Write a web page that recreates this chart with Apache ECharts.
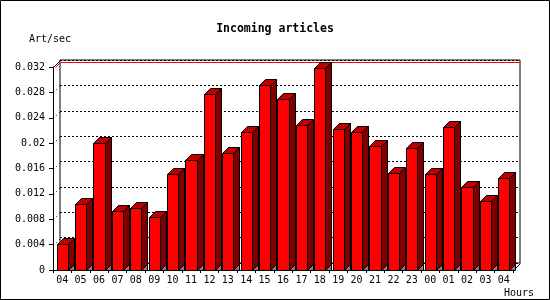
<!DOCTYPE html>
<html><head><meta charset="utf-8">
<script src="https://cdn.jsdelivr.net/npm/echarts@6/dist/echarts.min.js"></script>
<style>html,body{margin:0;padding:0;background:#fff}#c{width:550px;height:300px}</style>
</head><body><div id="c"></div>
<script>
const categories = ['04','05','06','07','08','09','10','11','12','13','14','15','16','17','18','19','20','21','22','23','00','01','02','03','04'];
const artPerSec = [0.00407,0.01041,0.02007,0.0093,0.00977,0.00834,0.0151,0.01738,0.02772,0.01849,0.02181,0.02915,0.02703,0.02291,0.03179,0.02229,0.02176,0.0196,0.01532,0.01928,0.01516,0.02261,0.0131,0.01088,0.01452];
const yTickValues = [0,0.004,0.008,0.012,0.016,0.02,0.024,0.028,0.032];
const yTickLabels = ['0','0.004','0.008','0.012','0.016','0.02','0.024','0.028','0.032'];
const maxLine = 0.032;

const D = 7;     // wall depth
const BD = 6;    // bar depth
const FONT = 'DejaVu Sans Mono';
const chart = echarts.init(document.getElementById('c'), null, {renderer:'canvas'});

function r(v){return Math.round(v)+0.5;}

function renderBar(params, api){
  const idx = api.value(0), v = api.value(1);
  const b = api.coord([idx, 0]);
  const t = api.coord([idx, v]);
  const band = api.size([1,0])[0];
  const x0 = r(b[0] - band*0.3), x1 = r(b[0] + band*0.3);
  const yb = r(b[1]), yt = r(t[1]);
  const st = {stroke:'#000', lineWidth:1};
  return {type:'group', children:[
    {type:'polygon', shape:{points:[[x1,yb],[x1+BD,yb-BD],[x1+BD,yb]]}, style:{fill:'#808080', stroke:'#000', lineWidth:1}},
    {type:'polygon', shape:{points:[[x1,yt],[x1+BD,yt-BD],[x1+BD,yb-BD],[x1,yb]]}, style:Object.assign({fill:'#800000'},st)},
    {type:'polygon', shape:{points:[[x0,yt],[x0+BD,yt-BD],[x1+BD,yt-BD],[x1,yt]]}, style:Object.assign({fill:'#c00000'},st)},
    {type:'rect', shape:{x:x0,y:yt,width:x1-x0,height:yb-yt}, style:Object.assign({fill:'#ff0000'},st)}
  ]};
}

// left side wall: diagonal connectors from the front axis to the back wall
function renderSide(params, api){
  const v = api.value(0);
  const p = api.coord([0, v]);
  const cs = params.coordSys;
  const x = r(cs.x), y = r(p[1]);
  if (v === maxLine) {
    return {type:'group', children:[
      {type:'line', shape:{x1:x, y1:y, x2:x+D, y2:y-D}, style:{stroke:'#000', lineWidth:1}},
      {type:'line', shape:{x1:x+2, y1:y, x2:x+D, y2:y-D+2}, style:{stroke:'#ff0000', lineWidth:1}}
    ]};
  }
  if (v === 0) {
    const xr = r(cs.x + cs.width);
    return {type:'line', shape:{x1:xr, y1:y, x2:xr+D, y2:y-D}, style:{stroke:'#000', lineWidth:1}};
  }
  return {type:'line', shape:{x1:x, y1:y, x2:x+D, y2:y-D}, style:{stroke:'#000', lineWidth:1, lineDash:[1,3]}};
}

// red line just inside the top of the back wall
function renderMax(params, api){
  const cs = params.coordSys;
  const y = r(api.coord([0, api.value(0)])[1]) + 2;
  return {type:'line', shape:{x1:cs.x, y1:y, x2:cs.x+cs.width, y2:y}, style:{stroke:'#ff0000', lineWidth:1}};
}

chart.setOption({
  animation:false,
  backgroundColor:'#fff',
  title:{text:'Incoming articles', left:'center', top:18,
    textStyle:{fontFamily:FONT, fontSize:11.5, fontWeight:'bold', color:'#000'}},
  grid:[
    {left:53, right:37, top:67, bottom:30, show:false},
    {left:60, right:30, top:60, bottom:37, show:true, borderColor:'#000', borderWidth:1, backgroundColor:'transparent'}
  ],
  xAxis:[
    {gridIndex:0, type:'category', data:categories, boundaryGap:true,
      axisLine:{show:true, lineStyle:{color:'#000', width:1}},
      axisTick:{show:true, interval:0, length:3, lineStyle:{color:'#000'}},
      axisLabel:{interval:0, margin:5, fontFamily:FONT, fontSize:10, color:'#000'},
      name:'Hours', nameLocation:'end', nameGap:-9,
      nameTextStyle:{fontFamily:FONT, fontSize:10, color:'#000', align:'left', verticalAlign:'top', padding:[18,0,0,0]}},
    {gridIndex:1, type:'category', data:categories, show:false}
  ],
  yAxis:[
    {gridIndex:0, type:'value', min:0, max:0.032, interval:0.004,
      axisLine:{show:true, lineStyle:{color:'#000'}},
      axisTick:{show:true, length:4, lineStyle:{color:'#000'}}, splitLine:{show:false},
      axisLabel:{margin:8, fontFamily:FONT, fontSize:10, color:'#000',
        formatter:function(v){const i=yTickValues.findIndex(t=>Math.abs(t-v)<1e-9);return i>=0?yTickLabels[i]:'';}},
      name:'Art/sec', nameLocation:'end', nameGap:23,
      nameTextStyle:{fontFamily:FONT, fontSize:10, color:'#000', align:'center', padding:[0,6,0,0]}},
    {gridIndex:1, type:'value', min:0, max:0.032, interval:0.004,
      axisLine:{show:false}, axisTick:{show:false}, axisLabel:{show:false},
      splitLine:{show:true, lineStyle:{color:'#000', type:[2,2], width:1}}}
  ],
  series:[
    {type:'custom', xAxisIndex:1, yAxisIndex:1, renderItem:renderMax, silent:true,
      data:[[maxLine]], encode:{y:0}, z:2},
    {type:'custom', xAxisIndex:0, yAxisIndex:0, renderItem:renderSide, silent:true,
      data:yTickValues.map(v=>[v]), encode:{y:0}, z:1},
    {type:'custom', xAxisIndex:0, yAxisIndex:0, renderItem:renderBar, silent:true,
      data:artPerSec.map((v,i)=>[i,v]), encode:{x:0,y:1}, z:3}
  ],
  graphic:[{type:'rect', shape:{x:0.5,y:0.5,width:549,height:299}, style:{fill:'none', stroke:'#000', lineWidth:1}, silent:true, z:100}]
});
</script></body></html>
